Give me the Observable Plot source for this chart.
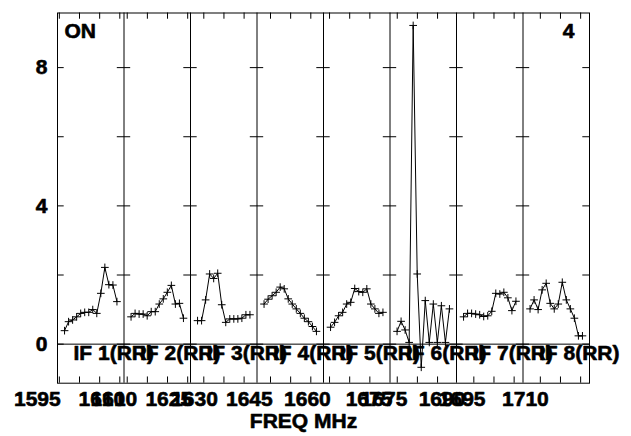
<!DOCTYPE html>
<html><head><meta charset="utf-8">
<script src="https://cdn.jsdelivr.net/npm/d3@7"></script>
<script src="https://cdn.jsdelivr.net/npm/@observablehq/plot@0.6"></script>
<style>body{margin:0;background:#fff} svg{display:block}</style>
</head><body><div id="chart"></div>
<script>
// ---- data ----
const ifLabels = ["IF 1(RR)","IF 2(RR)","IF 3(RR)","IF 4(RR)","IF 5(RR)","IF 6(RR)","IF 7(RR)","IF 8(RR)"];
const if1 = [0.39,0.65,0.70,0.79,0.89,0.92,0.92,1.00,0.89,1.47,2.22,1.72,1.71,1.23];
const if2 = [0.79,0.89,0.87,0.87,0.82,0.94,0.94,1.16,1.31,1.50,1.70,1.16,1.18,0.75];
const if3 = [0.68,0.68,1.28,2.03,1.90,2.05,1.14,0.63,0.73,0.73,0.73,0.75,0.85,0.85];
const if4 = [1.16,1.30,1.40,1.50,1.65,1.60,1.31,1.16,1.02,0.89,0.75,0.65,0.51,0.37];
const if5 = [0.49,0.63,0.82,0.92,1.16,1.21,1.61,1.52,1.50,1.60,1.16,1.02,0.89,0.92];
const if6 = [0.37,0.66,0.41,0.05,9.22,2.03,-0.67,1.26,0.05,1.16,0.05,1.11,0.05,1.02];
const if7 = [0.79,0.89,0.89,0.87,0.85,0.80,0.82,0.95,1.47,1.45,1.50,1.34,0.97,1.24];
const if8 = [1.02,1.28,1.00,1.57,1.76,1.18,1.02,1.16,1.79,1.28,1.02,0.75,0.24,0.24];
const yTickLabels = [0,4,8];
const yTickValues = [0,2,4,6,8];
const xTickLabels = ["1595","1610","1610","1625","1630","1645","1660","1675","1675","1690","1695","1710"];
const xTickLabelPos = [-5.0,11.0,14.0,27.6,34.0,47.6,62.0,77.3,81.0,95.4,100.4,116.1];
const tickPhase = [0.46,0.8,3.3,3.35,1.5,1.8,4.3,4.3];
const cornerLeft = "ON";
const cornerRight = "4";
const xTitle = "FREQ MHz";

// ---- layout helpers ----
const series = [if1,if2,if3,if4,if5,if6,if7,if8];
const W = 16.5, PAD = 1.75;
const X0 = 0, X1 = 8*W, Y0 = -1.13, Y1 = 9.58;
const data = series.flatMap((vals,p)=>vals.map((v,k)=>({panel:p, x:p*W+PAD+k, v})));
const bounds = d3.range(1,8).map(p=>p*W);
const tl = 1.66, th = 0.18;
const ySegs = [];
for (const v of yTickValues) {
  ySegs.push({y:v,x1:X0,x2:X0+tl});
  ySegs.push({y:v,x1:X1-tl,x2:X1});
  for (const b of bounds) ySegs.push({y:v,x1:b-tl,x2:b+tl});
}
const xTicks = tickPhase.flatMap((ph,p)=>d3.range(ph,W,5).filter(t=>t>0.3&&t<W-0.3).map(t=>p*W+t));
const font = {fontFamily:"Liberation Sans, Arial, sans-serif", fontWeight:"bold", fontSize:21, fill:"black", stroke:"black", strokeWidth:0.6};

const chart = Plot.plot({
  width:631, height:436,
  marginLeft:57, marginRight:42, marginTop:12.5, marginBottom:53.3,
  x:{domain:[X0,X1], axis:null},
  y:{domain:[Y0,Y1], axis:null},
  style:{background:"white", color:"black"},
  marks:[
    Plot.ruleY([0], {stroke:"black", strokeWidth:1}),
    Plot.ruleX(bounds, {stroke:"black", strokeWidth:1}),
    Plot.ruleY(ySegs, {y:"y", x1:"x1", x2:"x2", stroke:"black", strokeWidth:1}),
    Plot.ruleX(xTicks, {x:d=>d, y1:Y0, y2:Y0+th, stroke:"black", strokeWidth:1}),
    Plot.ruleX(xTicks, {x:d=>d, y1:Y1-th, y2:Y1, stroke:"black", strokeWidth:1}),
    Plot.line(data, {x:"x", y:"v", z:"panel", stroke:"black", strokeWidth:1}),
    Plot.dot(data, {x:"x", y:"v", symbol:"plus", r:2.6, stroke:"black", strokeWidth:1}),
    Plot.frame({stroke:"black", strokeWidth:1}),
    Plot.text(yTickLabels, {x:X0, y:d=>d, text:d=>String(d), dx:-10, textAnchor:"end", lineAnchor:"middle", ...font}),
    Plot.text(xTickLabels, {x:(d,i)=>xTickLabelPos[i], y:Y0, text:d=>d, dy:16.5, textAnchor:"middle", lineAnchor:"middle", ...font}),
    Plot.text(ifLabels, {x:(d,i)=>i*W+3.97, y:0, text:d=>d, dy:9.5, textAnchor:"start", lineAnchor:"middle", ...font}),
    Plot.text([cornerLeft], {frameAnchor:"top-left", dx:7, dy:18.5, textAnchor:"start", lineAnchor:"middle", text:d=>d, ...font}),
    Plot.text([cornerRight], {frameAnchor:"top-right", dx:-15, dy:18.5, textAnchor:"end", lineAnchor:"middle", text:d=>d, ...font}),
    Plot.text([xTitle], {frameAnchor:"bottom", dx:-20, dy:38.5, textAnchor:"middle", lineAnchor:"middle", text:d=>d, ...font})
  ]
});
document.getElementById("chart").append(chart);
</script>
</body></html>
